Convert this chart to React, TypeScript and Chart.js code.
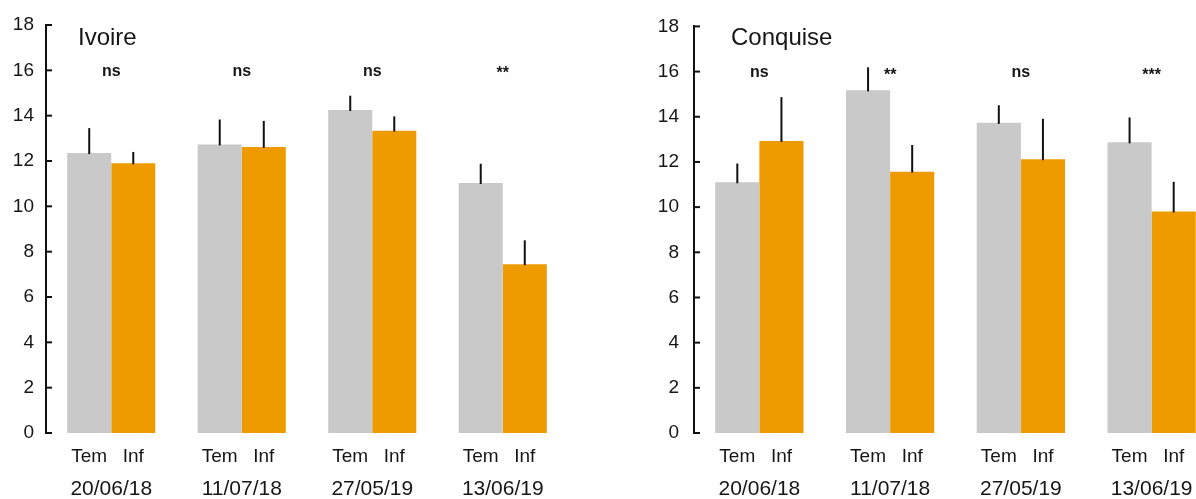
import React, { useEffect, useRef } from 'react';
import { Chart, registerables } from 'chart.js';

Chart.register(...registerables);

const dates = ['20/06/18', '11/07/18', '27/05/19', '13/06/19'];
const treatments = ['Tem', 'Inf'];
const yMin = 0;
const yMax = 18;
const yStep = 2;
const sigLevel = 16;

const ivoireTem = [12.35, 12.73, 14.25, 11.03];
const ivoireTemErr = [1.1, 1.1, 0.63, 0.85];
const ivoireInf = [11.9, 12.62, 13.34, 7.45];
const ivoireInfErr = [0.5, 1.15, 0.63, 1.05];
const ivoireSig = ['ns', 'ns', 'ns', '**'];

const conquiseTem = [11.1, 15.17, 13.73, 12.87];
const conquiseTemErr = [0.83, 1.02, 0.78, 1.1];
const conquiseInf = [12.93, 11.57, 12.12, 9.81];
const conquiseInfErr = [1.94, 1.18, 1.79, 1.31];
const conquiseSig = ['ns', '**', 'ns', '***'];

const FONT = "'Liberation Sans', Arial, sans-serif";
const TEXT = '#161616';
const GRAY = '#c9c9c9';
const ORANGE = '#ee9b00';

function makePanelPlugin(title: string, sig: string[], errs: number[][], titleOffset: number) {
  return {
    id: 'panelDecor',
    afterDraw(chart: any) {
      const ctx = chart.ctx;
      const xs = chart.scales.x;
      const ys = chart.scales.y;
      const area = chart.chartArea;
      ctx.save();
      // error bars
      ctx.strokeStyle = '#111';
      ctx.lineWidth = 2;
      chart.data.datasets.forEach((ds: any, di: number) => {
        const meta = chart.getDatasetMeta(di);
        meta.data.forEach((bar: any, i: number) => {
          const top = ys.getPixelForValue(ds.data[i] + errs[di][i]);
          ctx.beginPath();
          ctx.moveTo(bar.x, bar.y + 1);
          ctx.lineTo(bar.x, top);
          ctx.stroke();
        });
      });
      // inward y ticks
      ys.ticks.forEach((t: any) => {
        const py = ys.getPixelForValue(t.value);
        ctx.beginPath();
        ctx.moveTo(area.left, py);
        ctx.lineTo(area.left + 6, py);
        ctx.stroke();
      });
      // treatment labels under bars
      ctx.fillStyle = TEXT;
      ctx.font = `19px ${FONT}`;
      ctx.textAlign = 'center';
      ctx.textBaseline = 'middle';
      chart.data.datasets.forEach((ds: any, di: number) => {
        const meta = chart.getDatasetMeta(di);
        meta.data.forEach((bar: any) => {
          ctx.fillText(treatments[di], bar.x, area.bottom + 24);
        });
      });
      // significance
      ctx.font = `bold 16px ${FONT}`;
      ctx.textBaseline = 'alphabetic';
      sig.forEach((s, i) => {
        const px = xs.getPixelForValue(i);
        const py = ys.getPixelForValue(sigLevel);
        ctx.fillText(s, px, s.startsWith('*') ? py + 8 : py + 5.5);
      });
      // title
      ctx.font = `24px ${FONT}`;
      ctx.textAlign = 'left';
      ctx.fillText(title, area.left + titleOffset, 45);
      ctx.restore();
    },
  };
}

function makeChart(
  canvas: HTMLCanvasElement,
  title: string,
  tem: number[],
  temErr: number[],
  inf: number[],
  infErr: number[],
  sig: string[],
  yWidth: number,
  tickPad: number,
  titleOffset: number
) {
  return new Chart(canvas, {
    type: 'bar',
    data: {
      labels: dates,
      datasets: [
        { label: treatments[0], data: tem, backgroundColor: GRAY, borderWidth: 0 },
        { label: treatments[1], data: inf, backgroundColor: ORANGE, borderWidth: 0 },
      ],
    },
    options: {
      responsive: false,
      animation: false,
      devicePixelRatio: 1,
      layout: { padding: { top: 25, right: 0, left: 0, bottom: 0 } },
      datasets: { bar: { barPercentage: 1, categoryPercentage: 0.675 } },
      plugins: { legend: { display: false }, tooltip: { enabled: false }, title: { display: false } },
      scales: {
        x: {
          type: 'category',
          offset: true,
          grid: { display: false, drawTicks: false },
          border: { display: false },
          ticks: { font: { size: 21, family: FONT }, color: TEXT, padding: 44, maxRotation: 0, autoSkip: false },
          afterFit: (s: any) => {
            s.height = 66;
            s.paddingLeft = 0;
            s.paddingRight = 0;
          },
        },
        y: {
          min: yMin,
          max: yMax,
          grid: { display: false, drawTicks: false },
          border: { display: true, color: '#111', width: 2 },
          ticks: { stepSize: yStep, font: { size: 19, family: FONT }, color: TEXT, padding: tickPad },
          afterFit: (s: any) => { s.width = yWidth; },
        },
      },
    },
    plugins: [makePanelPlugin(title, sig, [temErr, infErr], titleOffset)],
  } as any);
}

export default function App() {
  const leftRef = useRef<HTMLCanvasElement>(null);
  const rightRef = useRef<HTMLCanvasElement>(null);

  useEffect(() => {
    const c1 = makeChart(leftRef.current!, 'Ivoire', ivoireTem, ivoireTemErr, ivoireInf, ivoireInfErr, ivoireSig, 46, 12, 32);
    const c2 = makeChart(rightRef.current!, 'Conquise', conquiseTem, conquiseTemErr, conquiseInf, conquiseInfErr, conquiseSig, 94, 15, 37);
    return () => {
      c1.destroy();
      c2.destroy();
    };
  }, []);

  return (
    <div style={{ position: 'fixed', left: 0, top: 0, width: 1196, height: 499, overflow: 'hidden', background: '#fff' }}>
      <canvas ref={leftRef} width={568} height={499} style={{ position: 'absolute', left: 0, top: 0 }} />
      <canvas ref={rightRef} width={617} height={499} style={{ position: 'absolute', left: 600, top: 0 }} />
    </div>
  );
}
